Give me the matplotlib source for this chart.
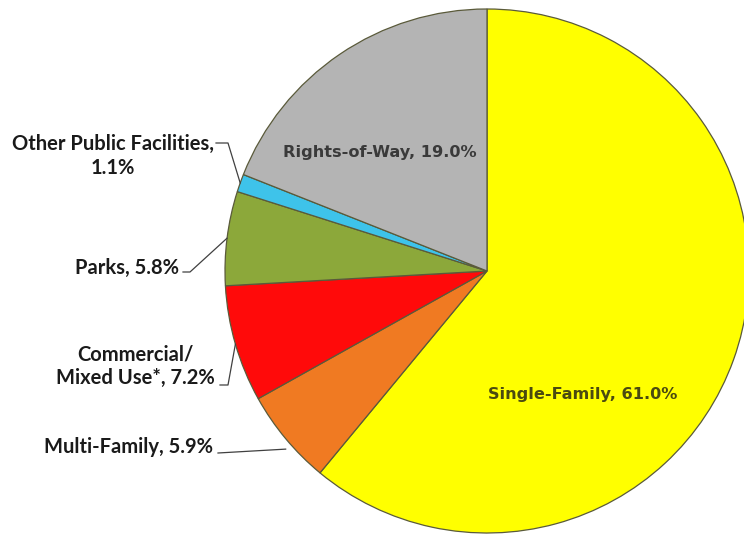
import numpy as np
import matplotlib.pyplot as plt

# land use shares, clockwise from 12 o'clock
names = ['Single-Family', 'Multi-Family', 'Commercial/\nMixed Use*', 'Parks',
         'Other Public Facilities,\n', 'Rights-of-Way']
shares = [61.0, 5.9, 7.2, 5.8, 1.1, 19.0]
colors = ['#FFFF00', '#F07A22', '#FF0A0A', '#8CA83A', '#3EC3EA', '#B4B4B4']

W, H = 744, 544
cx, cy, r = 487, 271, 262  # pie centre and radius, pixels

fig = plt.figure(figsize=(W / 100, H / 100), dpi=100)
ax = fig.add_axes([(cx - r) / W, (H - cy - r) / H, 2 * r / W, 2 * r / H])

wedges, _ = ax.pie(shares, colors=colors, startangle=90, counterclock=False,
                   radius=1.0, wedgeprops=dict(edgecolor='#5a5a3a', linewidth=0.9))
ax.set_xlim(-1, 1)
ax.set_ylim(-1, 1)
ax.axis('off')


def px(x, y):
    # pixel position -> data units of the pie axes
    return (x - cx) / r, (cy - y) / r


def edge_point(w, frac=1.0):
    a = np.deg2rad((w.theta1 + w.theta2) / 2)
    return frac * np.cos(a), frac * np.sin(a)


font = dict(family=['Lato', 'DejaVu Sans'], fontweight='bold', color='#1a1a1a', fontsize=14.5)
lc = dict(color='#404040', lw=0.9)

# Other Public Facilities
tx, ty = px(113, 156)
ax.text(tx, ty, 'Other Public Facilities,\n%.1f%%' % shares[4], ha='center', va='center',
        multialignment='center', linespacing=1.2, **font)
ex, ey = edge_point(wedges[4])
p0, p1 = px(216, 143), px(228, 143)
ax.plot([p0[0], p1[0], ex], [p0[1], p1[1], ey], clip_on=False, **lc)

# Parks
tx, ty = px(179, 268)
ax.text(tx, ty, 'Parks, %.1f%%' % shares[3], ha='right', va='center', **font)
ex, ey = edge_point(wedges[3])
p0, p1 = px(183, 272), px(190, 272)
ax.plot([p0[0], p1[0], ex], [p0[1], p1[1], ey], clip_on=False, **lc)

# Commercial / Mixed Use
tx, ty = px(135, 366)
ax.text(tx, ty, 'Commercial/\nMixed Use*, %.1f%%' % shares[2], ha='center', va='center',
        multialignment='center', linespacing=1.2, **font)
ex, ey = edge_point(wedges[2])
p0, p1 = px(220, 385), px(228, 385)
ax.plot([p0[0], p1[0], ex], [p0[1], p1[1], ey], clip_on=False, **lc)

# Multi-Family
tx, ty = px(213, 447)
ax.text(tx, ty, 'Multi-Family, %.1f%%' % shares[1], ha='right', va='center', **font)
ex, ey = edge_point(wedges[1])
p0 = px(218, 453)
ax.plot([p0[0], ex], [p0[1], ey - 0.04], clip_on=False, **lc)

# labels inside the two big slices
inner = dict(family=['DejaVu Sans'], fontweight='bold', fontsize=11.6)
tx, ty = px(380, 153)
ax.text(tx, ty, 'Rights-of-Way, %.1f%%' % shares[5], ha='center', va='center',
        color='#3a3a3a', **inner)
tx, ty = px(583, 395)
ax.text(tx, ty, 'Single-Family, %.1f%%' % shares[0], ha='center', va='center',
        color='#4a4a10', **inner)

fig.savefig('out.png', dpi=100, facecolor='white')
